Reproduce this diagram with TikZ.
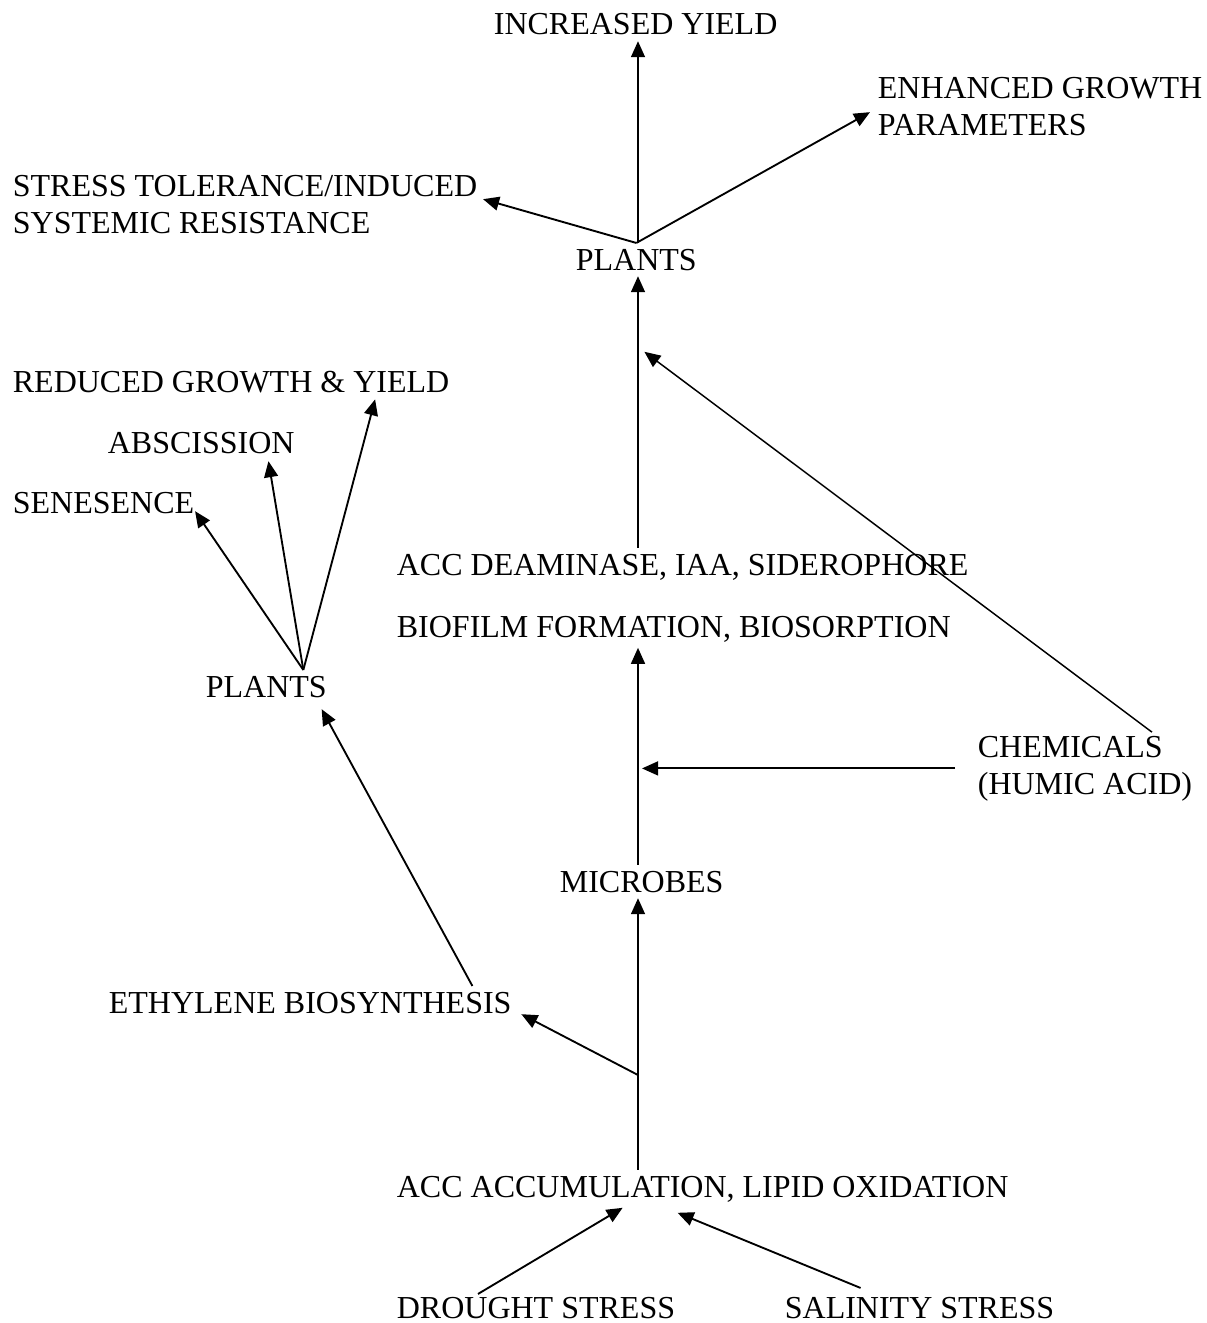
\documentclass[tikz,border=0pt]{standalone}
\usepackage{fontspec}
\setmainfont{Liberation Serif}
\usetikzlibrary{arrows.meta}
\tikzset{
  lbl/.style={inner sep=2pt,anchor=base west,align=left},
  arr/.style={-{Triangle[length=6pt,width=5.2pt]},line width=0.7pt}
}

\begin{document}
\begin{tikzpicture}[x=0.375pt,y=-0.375pt,every node/.style={font=\fontsize{12}{13.8}\selectfont}]
  \useasboundingbox (0,0) rectangle (1206,1323);
  % outcomes at the top
  \node[lbl] (incr) at (488,35) {INCREASED YIELD};
  \node[lbl] (enh) at (872,135) {ENHANCED GROWTH\\PARAMETERS};
  \node[lbl] (stress) at (7,233) {STRESS TOLERANCE/INDUCED\\SYSTEMIC RESISTANCE};
  \node[lbl] (plantsT) at (570,270) {PLANTS};
  % left branch
  \node[lbl] (reduced) at (7,392) {REDUCED GROWTH \& YIELD};
  \node[lbl] (absc) at (102,453) {ABSCISSION};
  \node[lbl] (senes) at (7,513) {SENESENCE};
  \node[lbl] (plantsL) at (200,697) {PLANTS};
  \node[lbl] (ethylene) at (103,1013) {ETHYLENE BIOSYNTHESIS};
  % middle column
  \node[lbl] (acc) at (391,575) {ACC DEAMINASE, IAA, SIDEROPHORE};
  \node[lbl] (biofilm) at (391,637) {BIOFILM FORMATION, BIOSORPTION};
  \node[lbl] (chem) at (972,794) {CHEMICALS\\(HUMIC ACID)};
  \node[lbl] (microbes) at (554,892) {MICROBES};
  \node[lbl] (accum) at (391,1197) {ACC ACCUMULATION, LIPID OXIDATION};
  \node[lbl] (drought) at (391,1318) {DROUGHT STRESS};
  \node[lbl] (salinity) at (779,1318) {SALINITY STRESS};

  \coordinate (spine) at (638,0);
  \coordinate (jEth) at (638,1075);
  \coordinate (jTop) at (638,347);
  \coordinate (fanL) at ([shift={(37,0)}]plantsL.north);

  % stresses
  \draw[arr] ([shift={(-58,3)}]drought.north) -- ([shift={(-80,0)}]accum.south);
  \draw[arr] ([shift={(-59,-3)}]salinity.north) -- ([shift={(-25,5)}]accum.south);
  \draw[arr] (accum.north -| spine) -- (microbes.south -| spine);
  \draw[arr] (jEth) -- ([shift={(4,-5)}]ethylene.south east);
  \draw[arr] ([shift={(-45,0)}]ethylene.north east) -- ([shift={(-11,6)}]plantsL.south east);
  \draw[arr] (fanL) -- ([shift={(-5,-8)}]senes.south east);
  \draw[arr] (fanL) -- ([shift={(-32,2)}]absc.south east);
  \draw[arr] (fanL) -- ([shift={(-80,1)}]reduced.south east);
  % microbes and chemicals
  \draw[arr] (microbes.north -| spine) -- (biofilm.south -| spine);
  \draw[arr,shorten >=1.5pt] ([shift={(-17,0)}]chem.west) -- (chem.west -| spine);
  \draw[arr,line width=0.55pt,shorten >=3pt] ([shift={(67,2)}]chem.north) -- (jTop);
  \draw[arr] (acc.north -| spine) -- (plantsT.south -| spine);
  % benefits
  \draw[arr] (plantsT.north -| spine) -- (incr.south -| spine);
  \draw[arr] (plantsT.north) -- ([shift={(0,-5)}]stress.east);
  \draw[arr] (plantsT.north) -- ([shift={(-2,6)}]enh.west);
\end{tikzpicture}
\end{document}
